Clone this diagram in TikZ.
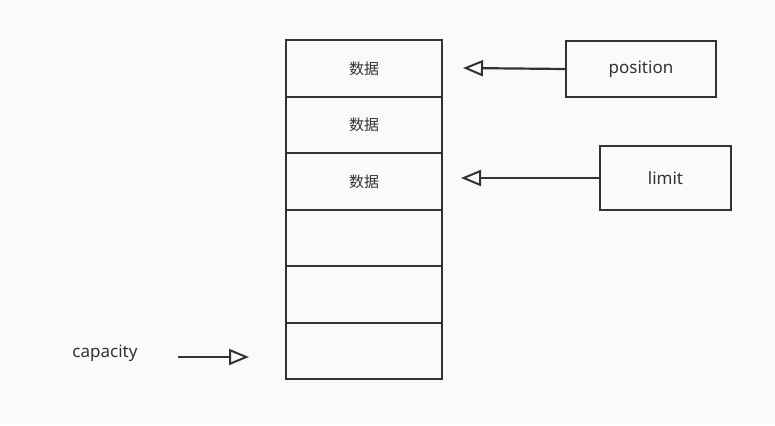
\documentclass[tikz,border=0pt]{standalone}
\usepackage{fontspec}
\setmainfont{Noto Sans}
\newfontfamily\cjk{Noto Sans CJK SC}
\usetikzlibrary{arrows.meta}
\definecolor{bg}{HTML}{FAFAFA}
\definecolor{ln}{HTML}{333333}
\tikzset{x=1pt,y=-1pt,
 cell/.style={draw=ln,line width=2.2pt,minimum width=156pt,minimum height=56.5pt,inner sep=0pt,font=\fontsize{15}{15}\selectfont\cjk,text=ln},
 lbl/.style={draw=ln,line width=2.2pt,inner sep=0pt,font=\fontsize{17}{17}\selectfont,text=ln},
 arr/.style={draw=ln,line width=2.2pt,-{Triangle[open,length=20pt,width=16pt,line width=2pt]}}}
\begin{document}
\begin{tikzpicture}
\fill[bg] (0,0) rectangle (775,425);
\useasboundingbox (0,0) rectangle (775,425);
\node[cell] (c1) at (364,68.5) {数据};
\node[cell] (c2) at (364,125) {数据};
\node[cell] (c3) at (364,181.5) {数据};
\node[cell] (c4) at (364,238) {};
\node[cell] (c5) at (364,294.5) {};
\node[cell] (c6) at (364,351) {};
\node[lbl,minimum width=150pt,minimum height=56pt] (pos) at (641,69) {position};
\node[lbl,minimum width=131pt,minimum height=64pt] (lim) at (665.5,178) {limit};
\node[font=\fontsize{17}{17}\selectfont,text=ln] (cap) at (105,353) {capacity};
\coordinate (pt) at (463,68);
\coordinate (lt) at (461,178);
\coordinate (cs) at (178,357);
\coordinate (ct) at (249,357);
\draw[arr] (pos.west) -- (pt);
\draw[arr] (lim.west) -- (lt);
\draw[arr] (cs) -- (ct);
\end{tikzpicture}
\end{document}
